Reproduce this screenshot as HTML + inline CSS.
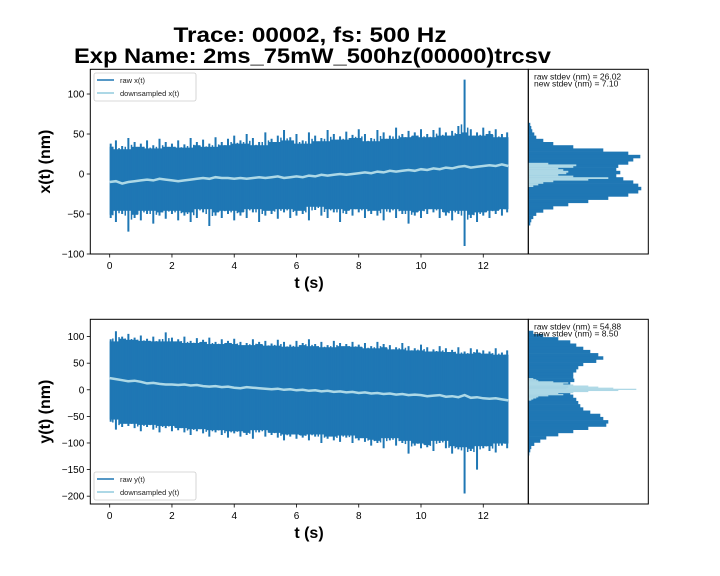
<!DOCTYPE html>
<html><head><meta charset="utf-8"><style>
html,body{margin:0;padding:0;background:#fff;}
svg{display:block;font-family:"Liberation Sans","DejaVu Sans",sans-serif;}
</style></head><body>
<svg id="fig" width="720" height="576" viewBox="0 0 720 576" xmlns="http://www.w3.org/2000/svg">
<rect width="720" height="576" fill="#fff"/>
<text x="310" y="42" text-anchor="middle" font-size="21" font-weight="bold" textLength="273" lengthAdjust="spacingAndGlyphs">Trace: 00002, fs: 500 Hz</text>
<text x="312.5" y="63" text-anchor="middle" font-size="21" font-weight="bold" textLength="477" lengthAdjust="spacingAndGlyphs">Exp Name: 2ms_75mW_500hz(00000)trcsv</text>
</svg>
<script>
const tStep = 0.2;
const upperX = [38,42,35,45,40,38,42,36,44,40,38, 42,37,45,40,43,38,46,40,44,48, 42,50,45,40,52,44,48,55,46,50, 42,52,48,45,55,50,47,53,49,56, 50,45,55,52,48,58,50,54,52,56, 50,55,58,52,54,60,118,56,52,58, 54,56,50,52];
const lowerX = [-55,-60,-50,-72,-55,-58,-50,-62,-52,-56,-50, -58,-52,-60,-55,-48,-65,-52,-55,-50,-58, -52,-55,-48,-60,-52,-50,-56,-48,-55,-52, -50,-58,-45,-52,-55,-48,-60,-50,-52,-48, -55,-50,-52,-58,-48,-55,-50,-62,-52,-55, -50,-48,-55,-52,-58,-50,-90,-55,-60,-52, -55,-50,-52,-48];
const downX = [-10,-9,-12,-10,-9,-8,-7,-8,-6,-7,-8, -9,-8,-7,-6,-5,-6,-4,-5,-5,-6, -5,-6,-5,-4,-5,-4,-3,-5,-4,-3, -4,-2,-3,-1,-2,-1,0,-1,0,1, 2,1,3,2,4,3,4,5,4,6, 5,7,6,8,7,9,10,8,9,10, 11,10,12,10];
const upperY = [95,110,100,105,98,102,96,100,95,108,98, 95,100,92,97,94,98,90,95,92,96, 90,88,95,90,92,87,94,90,85,92, 88,95,86,90,84,92,88,86,90,85, 88,82,90,86,84,80,88,82,78,85, 80,76,82,78,75,80,72,78,76,74, 72,78,70,74];
const lowerY = [-60,-75,-70,-68,-72,-78,-70,-75,-80,-72,-78, -76,-80,-85,-78,-82,-88,-80,-85,-90,-82, -88,-85,-92,-80,-88,-85,-90,-95,-88,-92, -90,-95,-88,-100,-92,-95,-98,-90,-100,-95, -98,-105,-100,-110,-95,-105,-100,-120,-105,-110, -108,-115,-100,-110,-120,-112,-195,-115,-150,-110, -115,-118,-105,-110];
const downY = [22,20,18,16,17,15,12,13,11,10,10, 9,10,8,9,7,6,7,5,6,4, 3,5,4,3,2,1,2,0,1,-1, 0,-2,-1,-3,-2,-4,-3,-5,-4,-6, -5,-7,-6,-8,-7,-9,-8,-10,-9,-10, -12,-11,-10,-13,-12,-14,-10,-15,-14,-16, -17,-16,-18,-20];
const xTicks = [0,2,4,6,8,10,12];
const yTicksTop = [-100,-50,0,50,100];
const yTicksBot = [-200,-150,-100,-50,0,50,100];
const histRawXCenters = [62,58,54,50,46,42,38,34,30,26,22,18,14,10,6,2,-2,-6,-10,-14,-18,-22,-26,-30,-34,-38,-42,-46,-50,-54,-58,-62];
const histRawXCounts = [2,3,4,6,8,15,25,45,75,100,112,105,100,90,88,92,88,95,105,110,113,110,100,80,60,40,25,15,8,5,3,2];
const histDownXCenters = [13,11,9,7,5,3,1,-1,-3,-5,-7,-9,-11,-13,-15];
const histDownXCounts = [20,48,45,30,35,40,38,30,45,80,60,25,15,10,5];
const histRawYCenters = [108,102,96,90,84,78,72,66,60,54,48,42,36,30,24,18,12,6,0,-6,-12,-18,-24,-30,-36,-42,-48,-54,-60,-66,-72,-78,-84,-90,-96,-102,-108,-114,-120];
const histRawYCounts = [5,15,30,42,48,55,62,70,75,68,55,50,48,45,45,46,42,40,38,42,45,48,50,52,55,62,72,75,80,78,60,45,30,18,12,6,3,2,1];
const histDownYCenters = [21,19,17,15,13,11,9,7,5,3,1,-1,-3,-5,-7,-9,-11,-13,-15,-17,-19];
const histDownYCounts = [5,8,10,25,40,35,45,60,70,85,108,90,60,45,30,35,20,10,8,5,3];

const NS='http://www.w3.org/2000/svg';
const svg=document.getElementById('fig');
function mk(tag,attrs,parent){const e=document.createElementNS(NS,tag);for(const k in attrs)e.setAttribute(k,attrs[k]);(parent||svg).appendChild(e);return e;}
const BLUE='#1f77b4', LIGHT='#add8e6';

function panel(cfg){
  const {top,bot,ymin,ymax,yTicks,upper,lower,down,label,letter,legendY,hRawC,hRawN,hDownC,hDownN,rawBin,downBin,stat1,stat2,name}=cfg;
  const L=90.3,R=528.3,HR=648.3;
  const sx=t=>109.7+t*31.13;
  const sy=v=>bot-(v-ymin)/(ymax-ymin)*(bot-top);
  const g=mk('g',{});
  
  
  const clipId=name+'clip';
  const cp=mk('clipPath',{id:clipId},g); mk('rect',{x:L,y:top,width:R-L,height:bot-top},cp);
  const rg=mk('g',{'clip-path':'url(#'+clipId+')'},g);
  
  
  const n=upper.length;
  const w=tStep*31.13;
  for(let i=0;i<n;i++){
    const up=Math.min(upper[i],upper[Math.max(0,i-1)],upper[Math.min(n-1,i+1)])-4;
    const lo=Math.max(lower[i],lower[Math.max(0,i-1)],lower[Math.min(n-1,i+1)])+4;
    const x0=Math.max(sx(0),sx(i*tStep)-w/2), x1=Math.min(sx((n-1)*tStep),sx(i*tStep)+w/2);
    const r=mk('rect',{x:x0,y:sy(up),width:x1-x0+0.3,height:sy(lo)-sy(up),fill:BLUE},rg);
    
    
    const xc=Math.min(Math.max(sx(i*tStep),sx(0)+1),sx((n-1)*tStep)-1);
    const l=mk('line',{x1:xc,x2:xc,y1:sy(upper[i]),y2:sy(lower[i]),stroke:BLUE,'stroke-width':2},rg);
    
    
    if(i<n-1){
      const xm=sx((i+0.5)*tStep);
      const um=(upper[i]+upper[i+1])/2-6, lm=(lower[i]+lower[i+1])/2+6;
      const l2=mk('line',{x1:xm,x2:xm,y1:sy(Math.min(um,upper[i]+2,upper[i+1]+2)),y2:sy(Math.max(lm,lower[i]-2,lower[i+1]-2)),stroke:BLUE,'stroke-width':1.5},rg);
      
      
    }
  }
  const dp=down.map((v,i)=>sx(i*tStep).toFixed(1)+','+sy(v).toFixed(1)).join(' ');
  const dl=mk('polyline',{points:dp,fill:'none',stroke:LIGHT,'stroke-width':2.5},g);
  
  
  const ax=mk('rect',{x:L,y:top,width:R-L,height:bot-top,fill:'none',stroke:'#000','stroke-width':1},g);
  
  
  xTicks.forEach(t=>{
    mk('line',{x1:sx(t),x2:sx(t),y1:bot,y2:bot+3.5,stroke:'#000','stroke-width':0.8},g);
    const tx=mk('text',{x:sx(t),y:bot+15,'text-anchor':'middle','font-size':10},g);tx.textContent=t;
    
    
  });
  yTicks.forEach(v=>{
    mk('line',{x1:L-3.5,x2:L,y1:sy(v),y2:sy(v),stroke:'#000','stroke-width':0.8},g);
    const tx=mk('text',{x:L-6,y:sy(v)+3.5,'text-anchor':'end','font-size':10},g);tx.textContent=(v<0?'\u2212'+(-v):v);
    
    
  });
  const xl=mk('text',{x:309,y:bot+34,'text-anchor':'middle','font-size':16,'font-weight':'bold'},g);xl.textContent='t (s)';
  
  
  const cy=(top+bot)/2;
  const yl=mk('text',{x:50,y:cy,'text-anchor':'middle','font-size':16,'font-weight':'bold',transform:'rotate(-90 50 '+cy+')'},g);yl.textContent=label;
  
  
  const lg=mk('g',{},g);
  
  
  mk('rect',{x:94,y:legendY,width:102,height:28,fill:'#fff',stroke:'#ccc','stroke-width':0.8,rx:2},lg);
  mk('line',{x1:97,x2:114,y1:legendY+7,y2:legendY+7,stroke:BLUE,'stroke-width':1.5},lg);
  mk('line',{x1:97,x2:114,y1:legendY+20,y2:legendY+20,stroke:LIGHT,'stroke-width':2},lg);
  const l1=mk('text',{x:120,y:legendY+10,'font-size':7.5,fill:'#222'},lg);l1.textContent='raw '+letter+'(t)';
  
  
  const l2=mk('text',{x:120,y:legendY+23,'font-size':7.5,fill:'#222'},lg);l2.textContent='downsampled '+letter+'(t)';
  
  
  const hg=mk('g',{},g);
  
  
  hRawC.forEach((c,i)=>{
    const y1=sy(c+rawBin/2),y2=sy(c-rawBin/2);
    const b=mk('rect',{x:R,y:y1,width:hRawN[i],height:y2-y1+0.3,fill:BLUE},hg);
    
    
  });
  hDownC.forEach((c,i)=>{
    const y1=sy(c+downBin/2),y2=sy(c-downBin/2);
    const b=mk('rect',{x:R,y:y1,width:hDownN[i],height:y2-y1+0.2,fill:LIGHT},hg);
    
    
  });
  mk('rect',{x:R,y:top,width:HR-R,height:bot-top,fill:'none',stroke:'#000','stroke-width':1},hg);
  const s1=mk('text',{x:534,y:top+10,'font-size':8.5,fill:'#111'},hg);s1.textContent=stat1;
  
  
  const s2=mk('text',{x:534,y:top+17,'font-size':8.5,fill:'#111'},hg);s2.textContent=stat2;
  
  
}
panel({top:69.3,bot:254,ymin:-100,ymax:130.9,yTicks:yTicksTop,upper:upperX,lower:lowerX,down:downX,label:'x(t) (nm)',letter:'x',legendY:73,
  hRawC:histRawXCenters,hRawN:histRawXCounts,hDownC:histDownXCenters,hDownN:histDownXCounts,rawBin:4,downBin:2,
  stat1:'raw stdev (nm) = 26.02',stat2:'new stdev (nm) = 7.10',name:'top'});
panel({top:319.3,bot:504,ymin:-214.7,ymax:132.5,yTicks:yTicksBot,upper:upperY,lower:lowerY,down:downY,label:'y(t) (nm)',letter:'y',legendY:472,
  hRawC:histRawYCenters,hRawN:histRawYCounts,hDownC:histDownYCenters,hDownN:histDownYCounts,rawBin:6,downBin:2,
  stat1:'raw stdev (nm) = 54.88',stat2:'new stdev (nm) = 8.50',name:'bottom'});
</script>
</body></html>
